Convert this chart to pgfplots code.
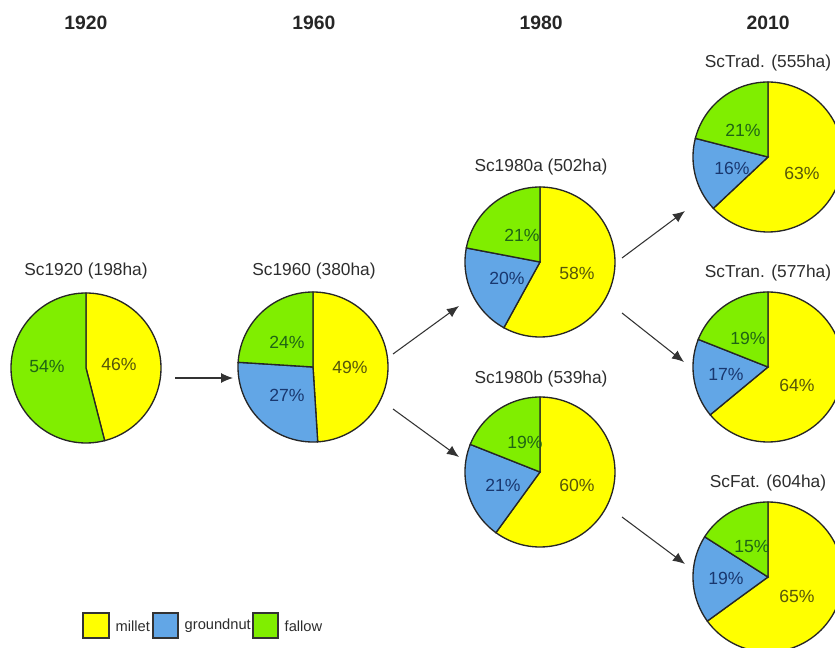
\documentclass[border=0pt]{standalone}
\usepackage{pgfplots}
\pgfplotsset{compat=1.18}
\usepackage{fontspec}
\setmainfont{Liberation Sans}
\usetikzlibrary{arrows.meta}
\definecolor{millet}{RGB}{255,255,0}
\definecolor{groundnut}{RGB}{98,166,230}
\definecolor{fallow}{RGB}{128,238,0}
\definecolor{mtxt}{RGB}{85,85,10}
\definecolor{gtxt}{RGB}{25,55,110}
\definecolor{ftxt}{RGB}{30,100,20}
\definecolor{ttxt}{RGB}{45,45,45}
\tikzset{
  ttl/.style={font=\fontsize{13}{15}\selectfont, text=ttxt},
  pct/.style={font=\fontsize{13.2}{15}\selectfont},
  yr/.style={font=\fontsize{14.5}{17}\selectfont\bfseries, text=black!85},
  arr/.style={-{Latex[length=9pt,width=7.5pt]}, draw=black!80, line width=0.8pt},
  leg/.style={anchor=west, font=\fontsize{11}{13}\selectfont, text=ttxt}}
% one slice: cx, cy, start angle, end angle, colour
\newcommand{\slice}[5]{\addplot[fill=#5, draw=black!85, line width=1pt, domain={#3}:{#4}, samples=72, variable=\t] ({#1+75*cos(\t)},{#2-75*sin(\t)}) -- (axis cs:#1,#2) -- cycle;}
% pie: cx, cy, millet %, groundnut %, fallow %
\newcommand{\pie}[5]{%
\slice{#1}{#2}{90-3.6*#3}{90}{millet}
\slice{#1}{#2}{90-3.6*(#3+#4)}{90-3.6*#3}{groundnut}
\slice{#1}{#2}{-270}{90-3.6*(#3+#4)}{fallow}}
\begin{document}
\begin{tikzpicture}
\path[use as bounding box] (0,0) rectangle (626.25pt,486pt);
\begin{axis}[at={(0,0)}, anchor=south west, scale only axis, width=626.25pt, height=486pt,
  xmin=0, xmax=835, ymin=0, ymax=648, y dir=reverse, hide axis, clip=true]
% years
\node[yr] at (axis cs:86,23) {1920};
\node[yr] at (axis cs:314,23) {1960};
\node[yr] at (axis cs:541,23) {1980};
\node[yr] at (axis cs:768,23) {2010};
% Sc1920: millet 46, fallow 54
\slice{86}{368}{90-3.6*46}{90}{millet}
\slice{86}{368}{-270}{90-3.6*46}{fallow}
\node[ttl] at (axis cs:86,271) {Sc1920 (198ha)};
\node[pct,text=ftxt] at (axis cs:47,366) {54\%};
\node[pct,text=mtxt] at (axis cs:119,364) {46\%};
% Sc1960
\pie{313}{367}{49}{27}{24}
\node[ttl] at (axis cs:314,271) {Sc1960 (380ha)};
\node[pct,text=ftxt] at (axis cs:287,342) {24\%};
\node[pct,text=gtxt] at (axis cs:287,395) {27\%};
\node[pct,text=mtxt] at (axis cs:350,367) {49\%};
% Sc1980a
\pie{540}{262}{58}{20}{21}
\node[ttl] at (axis cs:541,167) {Sc1980a (502ha)};
\node[pct,text=ftxt] at (axis cs:522,235) {21\%};
\node[pct,text=gtxt] at (axis cs:507,278) {20\%};
\node[pct,text=mtxt] at (axis cs:577,273) {58\%};
% Sc1980b
\pie{540}{472}{60}{21}{19}
\node[ttl] at (axis cs:541,379) {Sc1980b (539ha)};
\node[pct,text=ftxt] at (axis cs:525,442) {19\%};
\node[pct,text=gtxt] at (axis cs:503,485) {21\%};
\node[pct,text=mtxt] at (axis cs:577,485) {60\%};
% ScTrad
\pie{768}{157}{63}{16}{21}
\node[ttl] at (axis cs:768,63) {ScTrad. (555ha)};
\node[pct,text=ftxt] at (axis cs:743,130) {21\%};
\node[pct,text=gtxt] at (axis cs:732,168) {16\%};
\node[pct,text=mtxt] at (axis cs:802,173) {63\%};
% ScTran
\pie{768}{367}{64}{17}{19}
\node[ttl] at (axis cs:768,273) {ScTran. (577ha)};
\node[pct,text=ftxt] at (axis cs:748,338) {19\%};
\node[pct,text=gtxt] at (axis cs:726,374) {17\%};
\node[pct,text=mtxt] at (axis cs:797,385) {64\%};
% ScFat
\pie{768}{577}{65}{19}{15}
\node[ttl] at (axis cs:768,483) {ScFat. (604ha)};
\node[pct,text=ftxt] at (axis cs:752,546) {15\%};
\node[pct,text=gtxt] at (axis cs:726,578) {19\%};
\node[pct,text=mtxt] at (axis cs:797,596) {65\%};
% arrows
\draw[arr] (axis cs:175,378) -- (axis cs:233,378);
\draw[arr] (axis cs:393,354) -- (axis cs:459,306);
\draw[arr] (axis cs:393,409) -- (axis cs:459,457);
\draw[arr] (axis cs:622,258) -- (axis cs:685,211);
\draw[arr] (axis cs:622,313) -- (axis cs:684,362);
\draw[arr] (axis cs:622,517) -- (axis cs:685,564);
% legend
\draw[fill=millet, draw=black!80, line width=0.8pt] (axis cs:83,613) rectangle (axis cs:109,638);
\node[leg] at (axis cs:111,626) {millet};
\draw[fill=groundnut, draw=black!80, line width=0.8pt] (axis cs:153,613) rectangle (axis cs:178,638);
\node[leg] at (axis cs:180,626) {groundnut};
\draw[fill=fallow, draw=black!80, line width=0.8pt] (axis cs:253,613) rectangle (axis cs:278,638);
\node[leg] at (axis cs:280,626) {fallow};
\end{axis}
\end{tikzpicture}
\end{document}
